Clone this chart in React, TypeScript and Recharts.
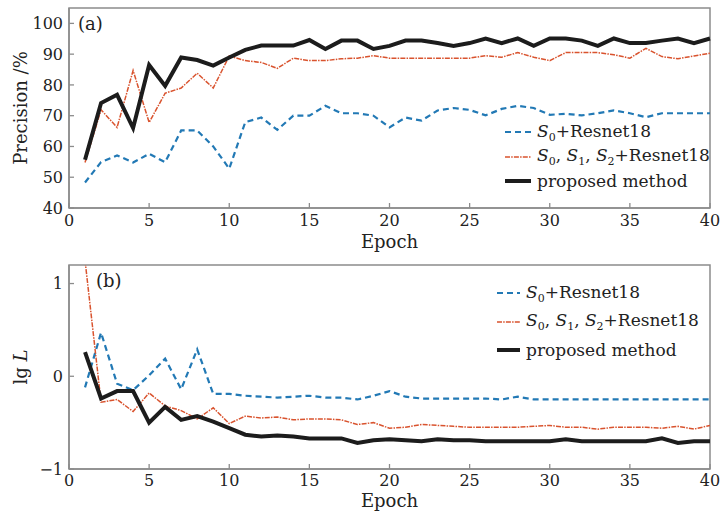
import React from 'react';
import { LineChart, Line, XAxis, YAxis, Legend, ReferenceArea } from 'recharts';

const epochs = [
  1, 2, 3, 4, 5, 6, 7, 8, 9, 10, 11, 12, 13, 14, 15, 16, 17, 18, 19, 20,
  21, 22, 23, 24, 25, 26, 27, 28, 29, 30, 31, 32, 33, 34, 35, 36, 37, 38, 39, 40,
];

// (a) precision, %
const precS0 = [
  48.3, 54.9, 57.1, 54.8, 57.6, 54.9, 65.2, 65.2, 60.0, 52.8, 67.9, 69.4, 65.4, 70.0, 70.0, 73.2, 70.8, 70.8, 70.0, 66.2,
  69.4, 68.4, 71.7, 72.5, 71.9, 70.1, 72.2, 73.2, 72.5, 70.3, 70.6, 70.1, 70.8, 71.7, 70.8, 69.5, 70.8, 70.8, 70.8, 70.8,
];
const precS012 = [
  54.8, 71.9, 66.2, 84.7, 67.8, 77.3, 79.0, 83.8, 79.0, 89.4, 87.9, 87.3, 85.4, 88.7, 87.9, 87.9, 88.5, 88.7, 89.5, 88.7,
  88.7, 88.7, 88.7, 88.7, 88.7, 89.5, 89.0, 90.5, 89.0, 87.9, 90.5, 90.5, 90.5, 89.8, 88.7, 91.9, 89.2, 88.5, 89.4, 90.3,
];
const precProposed = [
  55.7, 74.1, 76.8, 66.0, 86.5, 79.7, 88.9, 88.1, 86.3, 88.9, 91.4, 92.8, 92.8, 92.8, 94.6, 91.7, 94.4, 94.4, 91.7, 92.7,
  94.4, 94.4, 93.6, 92.7, 93.6, 95.1, 93.6, 95.1, 92.7, 95.1, 95.1, 94.4, 92.7, 95.1, 93.6, 93.6, 94.4, 95.1, 93.6, 95.1,
];

// (b) lg L
const lossS0 = [
  -0.12, 0.47, -0.08, -0.15, 0.01, 0.19, -0.14, 0.29, -0.19, -0.19, -0.21, -0.22, -0.23, -0.22, -0.21, -0.23, -0.23, -0.25, -0.21, -0.16,
  -0.22, -0.24, -0.24, -0.24, -0.24, -0.24, -0.25, -0.22, -0.25, -0.25, -0.25, -0.25, -0.25, -0.25, -0.25, -0.25, -0.25, -0.25, -0.25, -0.25,
];
const lossS012 = [
  1.25, -0.28, -0.25, -0.38, -0.18, -0.32, -0.37, -0.46, -0.34, -0.51, -0.43, -0.45, -0.44, -0.47, -0.46, -0.46, -0.47, -0.52, -0.5, -0.56,
  -0.55, -0.52, -0.53, -0.54, -0.55, -0.55, -0.55, -0.55, -0.54, -0.53, -0.55, -0.55, -0.57, -0.55, -0.55, -0.55, -0.56, -0.54, -0.57, -0.53,
];
const lossProposed = [
  0.26, -0.24, -0.16, -0.16, -0.5, -0.33, -0.47, -0.43, -0.49, -0.56, -0.63, -0.65, -0.64, -0.65, -0.67, -0.67, -0.67, -0.72, -0.69, -0.68,
  -0.69, -0.7, -0.68, -0.69, -0.69, -0.7, -0.7, -0.7, -0.7, -0.7, -0.68, -0.7, -0.7, -0.7, -0.7, -0.7, -0.67, -0.72, -0.7, -0.7,
];

const xTicks = [0, 5, 10, 15, 20, 25, 30, 35, 40];
const precTicks = [40, 50, 60, 70, 80, 90, 100];
const lossTicks = [-1, 0, 1];

const dataA = epochs.map((e, i) => ({ epoch: e, s0: precS0[i], s012: precS012[i], ours: precProposed[i] }));
const dataB = epochs.map((e, i) => ({ epoch: e, s0: lossS0[i], s012: lossS012[i], ours: lossProposed[i] }));

const FONT = '"DejaVu Serif", serif';
const AXIS = '#8c8c8c';
const BLUE = '#2279b5';
const RED = '#d9532e';
const BLACK = '#1c1c1c';

const fmt = (v: number) => (v < 0 ? '\u2212' + Math.abs(v) : String(v));

const makeXTick = (dy: number) => (props: any) => {
  const { x, y, payload } = props;
  return (
    <g>
      <line x1={x} x2={x} y1={y} y2={y - 5} stroke={AXIS} strokeWidth={1.3} />
      <text x={x} y={y + dy} textAnchor="middle" fontFamily={FONT} fontSize={16} fill="#222">
        {payload.value}
      </text>
    </g>
  );
};

const YTick = (props: any) => {
  const { x, y, payload } = props;
  return (
    <g>
      <line x1={x} x2={x + 5} y1={y} y2={y} stroke={AXIS} strokeWidth={1.3} />
      <text x={x - 6} y={y} dy="0.36em" textAnchor="end" fontFamily={FONT} fontSize={16} fill="#222">
        {fmt(payload.value)}
      </text>
    </g>
  );
};

const Sub = ({ n }: { n: string }) => (
  <>
    <i>S</i>
    <sub style={{ fontSize: 11, verticalAlign: -4 }}>{n}</sub>
  </>
);

const series = [
  { key: 's0', color: BLUE, dash: '6 4', width: 2.2, label: <><Sub n="0" />+Resnet18</> },
  { key: 's012', color: RED, dash: '5 1.2 1.5 1.2', width: 1.5, label: <><Sub n="0" />, <Sub n="1" />, <Sub n="2" />+Resnet18</> },
  { key: 'ours', color: BLACK, dash: undefined, width: 4, label: <>proposed method</> },
];

const makeLegend = (rowH: number, sampleW: number) => () => (
  <div style={{ fontFamily: FONT, fontSize: 17, color: '#222' }}>
    {series.map((s) => (
      <div key={s.key} style={{ display: 'flex', alignItems: 'center', height: rowH, whiteSpace: 'nowrap' }}>
        <svg width={sampleW} height={10} style={{ marginRight: 6 }}>
          <line x1={0} x2={sampleW} y1={5} y2={5} stroke={s.color} strokeWidth={s.width} strokeDasharray={s.dash} />
        </svg>
        <span>{s.label}</span>
      </div>
    ))}
  </div>
);

const tagLabel = (text: string, dx: number) => (props: any) => {
  const vb = props.viewBox;
  return (
    <text x={vb.x + dx} y={vb.y + 22} fontFamily={FONT} fontSize={18} fill="#222">
      {text}
    </text>
  );
};

const xLabel = (dy: number) => (props: any) => {
  const vb = props.viewBox;
  return (
    <text x={vb.x + vb.width / 2} y={vb.y + dy} textAnchor="middle" fontFamily={FONT} fontSize={18} fill="#222">
      Epoch
    </text>
  );
};

const yLabel = (text: React.ReactNode) => (props: any) => {
  const vb = props.viewBox;
  const cx = 21;
  const cy = vb.y + vb.height / 2;
  return (
    <text x={cx} y={cy} transform={`rotate(-90 ${cx} ${cy})`} dy="0.36em" textAnchor="middle" fontFamily={FONT} fontSize={18} fill="#222">
      {text}
    </text>
  );
};

function Panel({ data, height, top, domain, ticks, tag, tagDx, ylab, tickDy, epochDy, legendTop, legendLeft, rowH, sampleW }: any) {
  return (
    <LineChart width={722} height={height} data={data} margin={{ top, right: 12, bottom: 0, left: 0 }}>
      <XAxis
        dataKey="epoch"
        type="number"
        domain={[0, 40]}
        ticks={xTicks}
        height={47}
        tickSize={0}
        tickMargin={0}
        tick={makeXTick(tickDy)}
        axisLine={{ stroke: AXIS, strokeWidth: 1.5 }}
        label={xLabel(epochDy)}
      />
      <YAxis
        type="number"
        domain={domain}
        ticks={ticks}
        allowDataOverflow
        width={69}
        tickSize={0}
        tickMargin={0}
        tick={YTick}
        axisLine={{ stroke: AXIS, strokeWidth: 1.5 }}
        label={yLabel(ylab)}
      />
      <ReferenceArea
        x1={0}
        x2={40}
        y1={domain[0]}
        y2={domain[1]}
        fill="none"
        fillOpacity={0}
        stroke={AXIS}
        strokeWidth={1.5}
        label={tagLabel(tag, tagDx)}
      />
      {series.map((s) => (
        <Line
          key={s.key}
          dataKey={s.key}
          type="linear"
          stroke={s.color}
          strokeWidth={s.width}
          strokeDasharray={s.dash}
          dot={false}
          isAnimationActive={false}
          strokeLinejoin="miter"
        />
      ))}
      <Legend
        layout="vertical"
        align="center"
        verticalAlign="middle"
        content={makeLegend(rowH, sampleW)}
        wrapperStyle={{ top: legendTop, left: legendLeft, width: 220 }}
      />
    </LineChart>
  );
}

export default function App() {
  return (
    <div style={{ position: 'absolute', left: 0, top: 0, width: 722, height: 516, background: '#fff' }}>
      <Panel
        data={dataA}
        height={255}
        top={8}
        domain={[40, 105]}
        ticks={precTicks}
        tag="(a)"
        tagDx={9}
        ylab="Precision /%"
        tickDy={18}
        epochDy={40}
        legendTop={120}
        legendLeft={505}
        rowH={24.5}
        sampleW={26}
      />
      <Panel
        data={dataB}
        height={261}
        top={10}
        domain={[-1, 1.2]}
        ticks={lossTicks}
        tag="(b)"
        tagDx={27}
        ylab={<>lg <tspan fontStyle="italic">L</tspan></>}
        tickDy={17}
        epochDy={38}
        legendTop={24}
        legendLeft={497}
        rowH={28.5}
        sampleW={23}
      />
    </div>
  );
}
